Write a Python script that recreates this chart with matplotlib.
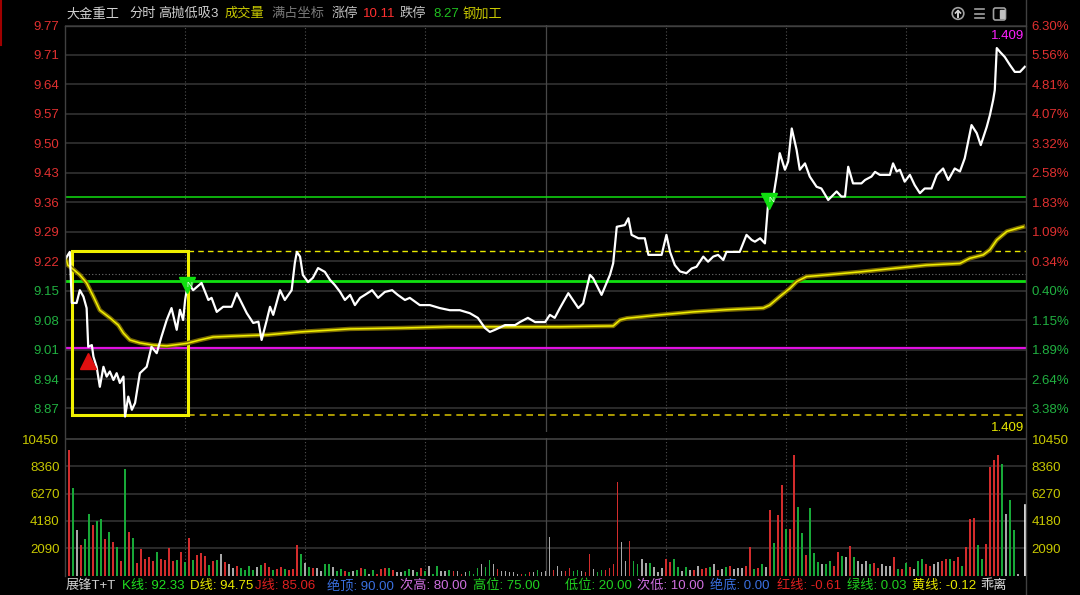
import matplotlib
matplotlib.use('Agg')
import matplotlib.pyplot as plt
import matplotlib.patches as mpatches
import numpy as np

plt.rcParams['font.family'] = ['Liberation Sans', 'Noto Sans CJK SC', 'DejaVu Sans']

# ---- 分时数据 (分钟, 价格) ----
price_t = [0, 1.2, 1.7, 2.9, 3.7, 4.6, 5.4, 5.8, 6.7, 7.1, 7.9, 8.7, 9.6, 10.4, 11.2, 12.1, 12.9,
           13.7, 14.6, 15.0, 15.8, 16.7, 17.5, 18.7, 20.4, 21.6, 22.9, 24.1, 25.4, 26.6, 27.9,
           28.7, 29.5, 30.0, 30.4, 30.8, 32.0, 34.1, 35.8, 36.6, 37.9, 39.5, 41.6, 42.9, 45.4,
           47.0, 48.3, 49.1, 50.4, 51.2, 52.0, 53.7, 54.9, 56.6, 57.4, 57.9, 58.7, 59.4, 60.7,
           61.9, 63.2, 64.9, 66.2, 67.4, 68.7, 69.9, 71.2, 72.4, 73.7, 74.9, 76.7, 78.2, 79.9,
           81.7, 83.1, 84.9, 86.1, 88.6, 91.1, 93.6, 96.1, 98.6, 101.1, 103.1, 104.9, 106.1,
           107.4, 109.9, 112.4, 113.6, 115.6, 117.4, 119.9, 121.1, 122.3, 123.6, 125.7, 128.2,
           129.4, 131.1, 131.9, 134.0, 136.1, 136.9, 137.8, 139.8, 140.7, 141.5, 143.2, 144.8,
           145.7, 149.0, 150.2, 151.1, 152.3, 153.6, 155.2, 156.5, 157.7, 159.4, 160.6, 161.9,
           163.1, 164.4, 165.2, 168.5, 170.2, 171.5, 172.3, 173.6, 174.8, 175.6, 176.9, 177.7,
           178.5, 179.8, 180.6, 181.5, 182.7, 183.5, 184.8, 186.0, 187.7, 188.9, 190.6, 192.7,
           193.9, 194.8, 195.6, 196.8, 198.9, 199.8, 201.4, 202.3, 203.5, 206.0, 206.8, 207.7,
           208.5, 209.7, 211.0, 212.2, 213.5, 214.7, 216.4, 217.7, 219.3, 220.6, 222.2, 223.5,
           224.7, 226.4, 227.7, 228.7, 230.2, 231.0, 231.8, 232.2, 232.7, 233.5, 234.7, 236.0,
           237.2, 238.5, 239.7]
price_v = [9.220, 9.238, 9.118, 9.118, 9.148, 9.133, 9.106, 9.015, 9.019, 8.992, 8.968, 8.921,
           8.968, 8.945, 8.957, 8.937, 8.953, 8.930, 8.945, 8.851, 8.898, 8.867, 8.883, 8.953,
           8.968, 9.015, 9.000, 9.039, 9.078, 9.106, 9.055, 9.102, 9.078, 9.125, 9.148, 9.165,
           9.148, 9.165, 9.125, 9.130, 9.097, 9.109, 9.109, 9.141, 9.094, 9.071, 9.074, 9.031,
           9.078, 9.109, 9.090, 9.148, 9.125, 9.148, 9.212, 9.238, 9.227, 9.184, 9.167, 9.177,
           9.200, 9.191, 9.172, 9.160, 9.144, 9.125, 9.137, 9.113, 9.130, 9.137, 9.148, 9.130,
           9.144, 9.148, 9.137, 9.125, 9.130, 9.113, 9.113, 9.106, 9.101, 9.101, 9.094, 9.083,
           9.059, 9.050, 9.055, 9.066, 9.066, 9.073, 9.083, 9.073, 9.073, 9.090, 9.083, 9.106,
           9.141, 9.106, 9.117, 9.184, 9.176, 9.137, 9.184, 9.211, 9.297, 9.301, 9.317, 9.278,
           9.270, 9.270, 9.231, 9.231, 9.278, 9.238, 9.207, 9.192, 9.188, 9.199, 9.203, 9.227,
           9.215, 9.227, 9.231, 9.219, 9.238, 9.238, 9.278, 9.266, 9.262, 9.270, 9.258, 9.352,
           9.368, 9.415, 9.470, 9.431, 9.450, 9.528, 9.478, 9.431, 9.446, 9.415, 9.391, 9.387,
           9.360, 9.380, 9.368, 9.368, 9.438, 9.399, 9.399, 9.407, 9.415, 9.426, 9.419, 9.419,
           9.446, 9.427, 9.431, 9.403, 9.419, 9.395, 9.376, 9.387, 9.387, 9.419, 9.434, 9.407,
           9.434, 9.427, 9.458, 9.536, 9.517, 9.489, 9.532, 9.560, 9.595, 9.618, 9.717, 9.708,
           9.696, 9.677, 9.661, 9.661, 9.673]

# 均价线
avg_t = [0.2, 0.7, 1.7, 3.7, 5.4, 7.1, 8.7, 11.2, 13.3, 14.6, 16.2, 18.7, 22.0, 25.4, 30.4, 33.7,
         37.0, 42.0, 50.4, 58.7, 71.2, 83.6, 96.1, 108.6, 123.6, 136.9, 138.6, 140.3, 148.6,
         156.9, 165.2, 174.4, 176.0, 178.5, 181.0, 182.7, 185.2, 190.2, 198.5, 206.8, 215.2,
         223.5, 226.0, 229.3, 231.0, 232.7, 235.2, 237.7, 239.3]
avg_v = [9.224, 9.207, 9.200, 9.184, 9.165, 9.133, 9.101, 9.083, 9.066, 9.047, 9.031, 9.024,
         9.019, 9.017, 9.023, 9.031, 9.038, 9.040, 9.043, 9.050, 9.057, 9.059, 9.062, 9.062,
         9.062, 9.064, 9.078, 9.082, 9.090, 9.097, 9.102, 9.106, 9.113, 9.133, 9.152, 9.168,
         9.180, 9.184, 9.191, 9.199, 9.207, 9.211, 9.223, 9.231, 9.243, 9.266, 9.286, 9.293,
         9.297]

left_price_labels = ['8.87', '8.94', '9.01', '9.08', '9.15', '9.22', '9.29', '9.36', '9.43',
                     '9.50', '9.57', '9.64', '9.71', '9.77']
right_pct_labels = ['3.38%', '2.64%', '1.89%', '1.15%', '0.40%', '0.34%', '1.09%', '1.83%',
                    '2.58%', '3.32%', '4.07%', '4.81%', '5.56%', '6.30%']
price_lo, price_hi = 8.87, 9.77

vol_ticks = [2090, 4180, 6270, 8360, 10450]
vol_labels = ['2090', '4180', '6270', '8360', '10450']
volume = [9630, 6700, 3470, 2330, 2790, 4690, 3830, 4180, 4360, 2790,
          3300, 2580, 2150, 1100, 8130, 3300, 2860, 930, 2000, 1260,
          1440, 1100, 1790, 1280, 1180, 2100, 1100, 1180, 1790, 1030,
          2860, 1180, 1560, 1690, 1490, 820, 1100, 1180, 1640, 1000,
          850, 600, 720, 600, 420, 720, 420, 650, 820, 930,
          650, 420, 500, 650, 500, 420, 500, 2330, 1640, 930,
          650, 570, 570, 340, 850, 850, 650, 340, 500, 340,
          240, 340, 420, 570, 500, 130, 420, 130, 500, 570,
          570, 450, 240, 240, 340, 500, 420, 240, 570, 340,
          710, 100, 710, 340, 340, 420, 340, 340, 100, 240,
          340, 100, 570, 850, 640, 1180, 850, 500, 340, 340,
          240, 240, 100, 100, 100, 240, 240, 420, 240, 340,
          2960, 420, 710, 340, 340, 570, 340, 420, 340, 240,
          1640, 500, 240, 420, 420, 570, 850, 7160, 2530, 1100,
          2630, 1100, 850, 1280, 930, 930, 640, 240, 570, 1280,
          1030, 1280, 640, 340, 640, 420, 420, 710, 500, 570,
          640, 850, 420, 500, 640, 710, 500, 570, 570, 710,
          2150, 500, 570, 850, 640, 5050, 2500, 4620, 6900, 3550,
          3550, 9190, 5250, 3220, 1560, 5130, 1740, 1000, 850, 850,
          1100, 710, 1820, 1490, 1440, 2250, 1440, 1100, 850, 1100,
          850, 930, 600, 900, 710, 710, 1440, 500, 500, 930,
          640, 500, 1100, 1280, 850, 710, 850, 1000, 1100, 1300,
          1280, 1100, 1400, 710, 2150, 4360, 4440, 2330, 1280, 2400,
          8300, 8810, 9190, 8560, 4690, 5760, 3470, 130]
vol_color = ("rgwrggrggr" "grgrgrgrrr" "rrgrrrrgrg" "rgrrrgrgwr" "wwrggggwgr"
             "rgrrgrrrgw" "grwwggwggr" "gwgrgwgrrr" "grwwggwgrg" "wggwwgrwrw"
             "gggwggwrww" "wwwrgrwgww" "wrwwrrggwr" "rwggrrrrww" "rggwwgwwwr"
             "rggwgwrwrr" "gwrwgrwwwr" "rgrgwrgrrg" "rrggrgggwg" "grrgwrgwww"
             "grrwwwrgrg" "rwggrrwwrr" "grrgrrrggr" "rrrgwggw")
last_vol = 5380

line_green_hi = 9.367
line_green_lo = 9.170
line_magenta = 9.012
prev_close = 9.186
box_top, box_bot = 9.240, 8.855
box_t0, box_t1 = 1.7, 30.8
buy_t, buy_p = [5.7], [8.982]
sell_t, sell_p = [30.5, 175.8], [9.160, 9.358]
peak_text = '1.409'

# ---- 画布 ----
W, H = 1080, 595
fig = plt.figure(figsize=(W / 100, H / 100), dpi=100, facecolor='black')


def px_axes(x0, y0, x1, y1):
    a = fig.add_axes([x0 / W, 1 - y1 / H, (x1 - x0) / W, (y1 - y0) / H], facecolor='black')
    for s in a.spines.values():
        s.set_visible(False)
    a.set_xticks([])
    return a


grid_c = '#363636'
step = (price_hi - price_lo) / 13
gpx = 29.46
ax = px_axes(65, 25, 1026, 432)
ax.set_xlim(0, 240)
ylim_p = (price_lo - (432 - 408.5) / gpx * step, price_hi + 0.5 / gpx * step)
ax.set_ylim(*ylim_p)
price_ticks = np.linspace(price_lo, price_hi, 14)
ax.set_yticks(price_ticks)
ax.set_yticklabels(left_price_labels, fontsize=9.5)
ax.tick_params(axis='y', length=0, pad=4)
for i, lab in enumerate(ax.get_yticklabels()):
    lab.set_color('#e03030' if i >= 5 else '#20b040')
axr = ax.twinx()
for s in axr.spines.values():
    s.set_visible(False)
axr.set_ylim(*ylim_p)
axr.set_yticks(price_ticks)
axr.set_yticklabels(right_pct_labels, fontsize=9.5)
axr.tick_params(axis='y', length=0, pad=4)
for i, lab in enumerate(axr.get_yticklabels()):
    lab.set_color('#e03030' if i >= 5 else '#20b040')

for p in price_ticks:
    ax.axhline(p, color=grid_c, lw=1.1, zorder=0)
for t in [30, 60, 90, 150, 180, 210]:
    ax.axvline(t, color='#505050', lw=0.8, ls=(0, (1, 2)), zorder=0)
ax.axvline(120, color='#484848', lw=0.9, zorder=0)

ax.axhline(prev_close, color='#707070', lw=0.8, ls=(0, (1, 2)))
ax.axhline(line_green_hi, color='#10e010', lw=1.1)
ax.axhline(line_green_lo, color='#10e010', lw=2.0)
ax.axhline(line_magenta, color='#e010e0', lw=1.6)
ax.plot([box_t1, 240], [box_top, box_top], color='#e8e800', lw=1, ls=(0, (4, 3)))
ax.plot([box_t1, 240], [box_bot, box_bot], color='#c8b400', lw=1.2, ls=(0, (4, 3)))
ax.add_patch(mpatches.Rectangle((box_t0, box_bot), box_t1 - box_t0, box_top - box_bot,
                                fill=False, ec='#f0f000', lw=2.2, zorder=3))

ax.plot(avg_t, avg_v, color='#7a6a00', lw=3.2, zorder=4)
ax.plot(avg_t, avg_v, color='#f0f000', lw=1.1, zorder=5)
ax.plot(price_t, price_v, color='white', lw=1.6, zorder=6)
ax.plot(buy_t, buy_p, ls='none', marker='^', color='#e01010', ms=11, zorder=7)
ax.plot(sell_t, sell_p, ls='none', marker='v', color='#10e010', ms=11, zorder=7)
for t, p in zip(sell_t, sell_p):
    ax.text(t + 0.6, p, 'N', color='white', fontsize=6, ha='center', va='center', zorder=8)
ax.text(239.5, max(price_v) + 0.028, peak_text, color='#ff20ff', fontsize=9.5,
        ha='right', va='center', zorder=8)
ax.text(239.5, 8.824, peak_text, color='#e8e800', fontsize=9.5, ha='right', va='center', zorder=8)

# ---- 成交量 ----
av = px_axes(65, 438, 1026, 575.5)
av.set_xlim(0, 240)
av.set_ylim(0, 10450 * (575.5 - 438) / (575.5 - 439))
av.set_yticks(vol_ticks)
av.set_yticklabels(vol_labels, fontsize=9.5, color='#c8c800')
av.tick_params(axis='y', length=0, pad=4)
avr = av.twinx()
for s in avr.spines.values():
    s.set_visible(False)
avr.set_ylim(av.get_ylim())
avr.set_yticks(vol_ticks)
avr.set_yticklabels(vol_labels, fontsize=9.5, color='#c8c800')
avr.tick_params(axis='y', length=0, pad=4)
for v in vol_ticks:
    av.axhline(v, color='#3c3c3c' if v == 10450 else grid_c, lw=1.3 if v == 10450 else 1.1, zorder=0)
for t in [30, 60, 90, 150, 180, 210]:
    av.axvline(t, color='#505050', lw=0.8, ls=(0, (1, 2)), zorder=0)
av.axvline(120, color='#484848', lw=0.9, zorder=0)
cmap = {'r': '#d22c2c', 'g': '#18a838', 'w': '#a8a8a8'}
minutes = np.arange(1, len(volume) + 1)
av.bar(minutes, volume, width=0.45, color=[cmap[c] for c in vol_color], zorder=2)
av.plot([239.8, 239.8], [0, last_vol], color='white', lw=1.2, zorder=3)

# ---- 边框、标题栏、状态栏 ----
ov = fig.add_axes([0, 0, 1, 1])
ov.set_xlim(0, W)
ov.set_ylim(H, 0)
ov.axis('off')
ov.patch.set_alpha(0)
ov.plot([65, 1026], [26, 26], color='#404040', lw=1)
ov.plot([65, 65], [26, 576], color='#404040', lw=1)
ov.plot([1026, 1026], [0, 595], color='#404040', lw=1)
ov.plot([1, 1], [0, 45], color='#a00000', lw=1.5)

header = [(66, '大金重工', '#d0d0d0'), (129, '分时', '#d0d0d0'), (158, '高抛低吸3', '#d0d0d0'),
          (225, '成交量', '#c8c800'), (271, '满占坐标', '#7a7a7a'), (332, '涨停', '#c0c0c0'),
          (363, '10.11', '#ff3030'), (400, '跌停', '#c0c0c0'), (433, '8.27', '#20c020'),
          (463, '钢加工', '#c8c800')]
for x, s, c in header:
    ov.text(x, 14, s, color=c, fontsize=9.5, va='center', ha='left')

ov.add_patch(mpatches.Circle((958, 13.5), 5.8, fill=False, ec='#a0a0a0', lw=1.2))
ov.plot([958, 958], [16.5, 11], color='#d0d0d0', lw=1.4)
ov.plot([955.5, 958, 960.5], [13, 10.5, 13], color='#d0d0d0', lw=1.2)
for yy in [9, 13.5, 18]:
    ov.plot([975, 984], [yy, yy], color='#a0a0a0', lw=1.2)
ov.add_patch(mpatches.FancyBboxPatch((993.5, 8), 12, 12, boxstyle='round,pad=0,rounding_size=2',
                                     fill=False, ec='#a0a0a0', lw=1.2))
ov.add_patch(mpatches.Rectangle((1000, 10), 4, 8, color='#c0c0c0'))

status = [(66, '展锋T+T', '#d0d0d0'), (122, 'K线: 92.33', '#20e020'), (190, 'D线: 94.75', '#e8e800'),
          (255, 'J线: 85.06', '#e02020'), (327, '绝顶: 90.00', '#3a70e0'),
          (400, '次高: 80.00', '#d070e0'), (473, '高位: 75.00', '#20d020'),
          (565, '低位: 20.00', '#20d020'), (637, '次低: 10.00', '#d070e0'),
          (710, '绝底: 0.00', '#3a70e0'), (777, '红线: -0.61', '#e02020'),
          (847, '绿线: 0.03', '#20d020'), (912, '黄线: -0.12', '#e8e800'), (980, '乖离', '#e0e0e0')]
for x, s, c in status:
    ov.text(x, 586, s, color=c, fontsize=9.5, va='center', ha='left')
ov.text(1031, 601, '100.00', color='#909090', fontsize=9.5, va='center', ha='left')

fig.savefig('out.png', dpi=100, facecolor='black')
